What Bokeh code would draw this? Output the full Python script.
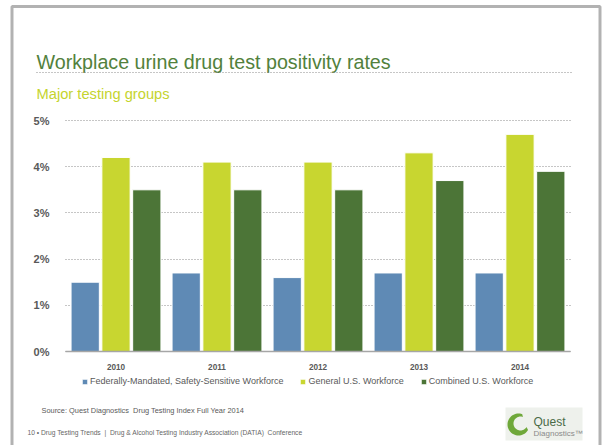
import numpy as np
from bokeh.plotting import figure
from bokeh.models import (Range1d, Label, BoxAnnotation, PolyAnnotation, Arrow,
                          ColumnDataSource, PrintfTickFormatter, LinearAxis, FixedTicker, Grid)
from bokeh.transform import dodge
from bokeh.embed import file_html
from bokeh.resources import INLINE

# ---- data ----
years = ["2010", "2011", "2012", "2013", "2014"]
federal = [1.5, 1.7, 1.6, 1.7, 1.7]
general = [4.2, 4.1, 4.1, 4.3, 4.7]
combined = [3.5, 3.5, 3.5, 3.7, 3.9]
series_names = ["Federally-Mandated, Safety-Sensitive Workforce",
                "General U.S. Workforce",
                "Combined U.S. Workforce"]
y_ticks = [0, 1, 2, 3, 4, 5]
title_text = "Workplace urine drug test positivity rates"
subtitle_text = "Major testing groups"
source_text = "Source: Quest Diagnostics\u00a0 Drug Testing Index Full Year 2014"
footer_text = ("10 \u2022 Drug Testing Trends\u00a0 |\u00a0 Drug & Alcohol Testing Industry "
               "Association (DATIA)\u00a0 Conference")

# ---- layout / style ----
W, H = 602, 445
FL, FR, FT, FB = 65, 570, 120, 351          # chart area on the canvas
BLUE, LIME, GREEN = "#5F8AB5", "#C8D630", "#4C7537"
FONT = "Liberation Sans"
GRAY = "#595959"

n = len(years)
ymax = y_ticks[-1]
pxx = (FR - FL) / n
pxy = (FB - FT) / ymax
x_start = -0.5 - FL / pxx
x_end = n - 0.5 + (W - FR) / pxx
y_start = -(H - FB) / pxy
y_end = ymax + FT / pxy

def sx(cx):
    return cx

def sy(cy):
    return H - cy

p = figure(width=W, height=H, x_range=Range1d(x_start, x_end), y_range=Range1d(y_start, y_end),
           output_backend="svg", toolbar_location=None, x_axis_type=None, y_axis_type=None,
           min_border=0, min_border_left=0, min_border_right=0,
           min_border_top=0, min_border_bottom=0)
p.outline_line_color = None
p.background_fill_color = "white"
p.border_fill_color = "white"

idx = list(range(n))
src = ColumnDataSource(dict(idx=idx, years=years, federal=federal, general=general, combined=combined))

# grid (dotted) limited to the chart area
try:
    g = Grid(dimension=1, ticker=FixedTicker(ticks=y_ticks), cross_bounds=(-0.5, n - 0.5))
except Exception:
    g = Grid(dimension=1, ticker=FixedTicker(ticks=y_ticks))
g.grid_line_color = "#8C8C8C"
g.grid_line_dash = "1 2"
g.grid_line_width = 1
p.add_layout(g)

bw = 0.28
p.vbar(x=dodge("idx", -0.305), top="federal", width=bw, source=src,
       fill_color=BLUE, line_color="white", line_width=1, legend_label=series_names[0])
p.vbar(x=dodge("idx", 0.0), top="general", width=bw, source=src,
       fill_color=LIME, line_color="white", line_width=1, legend_label=series_names[1])
p.vbar(x=dodge("idx", 0.305), top="combined", width=bw, source=src,
       fill_color=GREEN, line_color="white", line_width=1, legend_label=series_names[2])

# axes drawn at fixed data locations
xaxis = LinearAxis(ticker=FixedTicker(ticks=idx),
                   major_label_overrides={i: y for i, y in zip(idx, years)},
                   fixed_location=0, bounds=(-0.5, n - 0.5))
xaxis.axis_line_color = "#A6A6A6"
xaxis.axis_line_width = 1.5
xaxis.major_tick_line_color = None
xaxis.minor_tick_line_color = None
xaxis.major_label_text_font = FONT
xaxis.major_label_text_font_style = "bold"
xaxis.major_label_text_font_size = "8.2px"
xaxis.major_label_text_color = GRAY
xaxis.major_label_standoff = 6
p.add_layout(xaxis, "below")

yaxis = LinearAxis(ticker=FixedTicker(ticks=y_ticks), formatter=PrintfTickFormatter(format="%d%%"),
                   fixed_location=-0.5)
yaxis.axis_line_color = None
yaxis.major_tick_line_color = None
yaxis.minor_tick_line_color = None
yaxis.major_label_text_font = FONT
yaxis.major_label_text_font_style = "bold"
yaxis.major_label_text_font_size = "11px"
yaxis.major_label_text_color = GRAY
yaxis.major_label_standoff = 10
p.add_layout(yaxis, "left")

# legend
leg = p.legend[0]
leg.orientation = "horizontal"
leg.location = (sx(81), sy(386))
leg.padding = 0
leg.margin = 0
leg.spacing = 16
leg.glyph_width = 7
leg.glyph_height = 7
leg.label_standoff = 2
leg.label_height = 9
leg.label_width = 0
leg.label_text_font = FONT
leg.label_text_font_size = "9px"
leg.label_text_color = GRAY
leg.border_line_color = None
leg.background_fill_alpha = 0

# slide border
p.add_layout(BoxAnnotation(left=sx(11.5), right=sx(599.5), top=sy(6), bottom=sy(470),
                           left_units="screen", right_units="screen",
                           top_units="screen", bottom_units="screen",
                           fill_alpha=0, line_color="black", line_width=3, level="overlay"))

# title, dotted rule, subtitle
p.add_layout(Label(x=sx(36), y=sy(61), x_units="screen", y_units="screen", text=title_text,
                   text_font=FONT, text_font_size="19.7px", text_color="#52813C",
                   text_baseline="alphabetic"))
p.add_layout(Arrow(x_start=sx(36), y_start=sy(72), x_end=sx(573), y_end=sy(72),
                   start_units="screen", end_units="screen", end=None, start=None,
                   line_color="#8C8C8C", line_dash="1 2", line_width=1))
p.add_layout(Label(x=sx(36), y=sy(93.3), x_units="screen", y_units="screen", text=subtitle_text,
                   text_font=FONT, text_font_size="14.7px", text_color="#C5D42E",
                   text_baseline="alphabetic"))

# source + footer
p.add_layout(Label(x=sx(41), y=sy(410), x_units="screen", y_units="screen", text=source_text,
                   text_font=FONT, text_font_size="7.4px", text_color=GRAY,
                   text_baseline="middle"))
p.add_layout(Label(x=sx(27), y=sy(432), x_units="screen", y_units="screen", text=footer_text,
                   text_font=FONT, text_font_size="6.7px", text_color="#666666",
                   text_baseline="middle"))

# logo
p.add_layout(BoxAnnotation(left=sx(505), right=sx(582), top=sy(407), bottom=sy(440),
                           left_units="screen", right_units="screen",
                           top_units="screen", bottom_units="screen",
                           fill_color="#EEF1EC", fill_alpha=1, line_color=None))
cx, cy = 518, 424
ang_o = np.linspace(np.radians(70), np.radians(330), 40)
ang_i = ang_o[::-1]
xs = list(cx + 11 * np.cos(ang_o)) + list(cx + 2 + 7 * np.cos(ang_i))
ys = list(cy - 11 * np.sin(ang_o)) + list(cy - 1 - 7 * np.sin(ang_i))
p.add_layout(PolyAnnotation(xs=[sx(v) for v in xs], ys=[sy(v) for v in ys],
                            xs_units="screen", ys_units="screen",
                            fill_color="#6FA83A", fill_alpha=1, line_color=None))
p.add_layout(Label(x=sx(533), y=sy(421), x_units="screen", y_units="screen", text="Quest",
                   text_font=FONT, text_font_size="12px", text_color="#4A6B47",
                   text_baseline="middle"))
p.add_layout(Label(x=sx(533), y=sy(433), x_units="screen", y_units="screen",
                   text="Diagnostics\u2122",
                   text_font=FONT, text_font_size="8px", text_color="#8A8A8A",
                   text_baseline="middle"))

open("out.html", "w").write(file_html(p, INLINE))
